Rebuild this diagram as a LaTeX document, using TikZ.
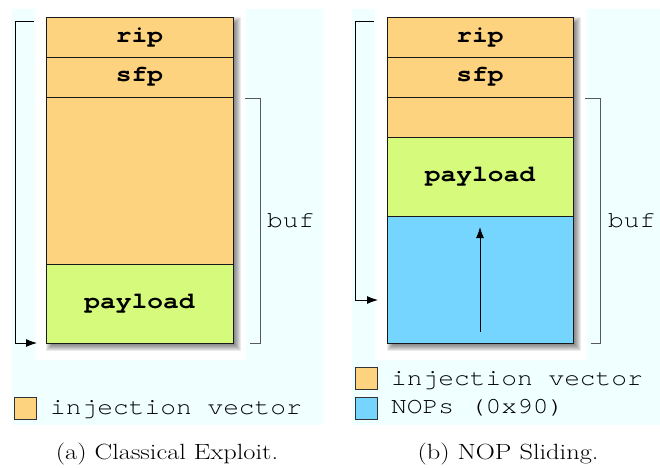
\documentclass[tikz,border=0pt]{standalone}
\usepackage{fontspec}
\usepackage{graphicx}
\setmonofont{texgyrecursor}[Extension=.otf, UprightFont=*-regular, BoldFont=*-bold, FakeStretch=1.14]
\usetikzlibrary{arrows.meta}
\definecolor{vecorange}{HTML}{FED37F}
\definecolor{payloadgreen}{HTML}{D5FA7C}
\definecolor{nopblue}{HTML}{76D5FE}
\definecolor{bgcyan}{HTML}{F0FFFF}
\begin{document}
\begin{tikzpicture}[x=1pt,y=-1pt,
  cell/.style={draw=black!90, line width=1pt, inner sep=0pt, font=\fontsize{23}{23}\selectfont\ttfamily\bfseries},
  lbl/.style={font=\fontsize{23}{23}\selectfont\ttfamily, inner sep=0pt, anchor=base west},
  captext/.style={font=\fontsize{22}{22}\selectfont, inner sep=0pt, anchor=base},
  brackline/.style={line width=0.9pt, draw=black!65},
  ptr/.style={line width=0.9pt, draw=black, -{Latex[length=11pt,width=8pt]}},
  key/.style={draw=black!80, line width=0.8pt, minimum size=22pt, inner sep=0pt}
]
\useasboundingbox (0,0) rectangle (660,467);
% panel backgrounds
\fill[bgcyan] (12,9) rectangle (323,425);
\fill[white] (35,9) rectangle (246,360);
\fill[bgcyan] (352,9) rectangle (660,425);
\fill[white] (375,9) rectangle (587,360);
% soft shadows
\foreach \k in {0,...,7}{
  \fill[black, opacity=0.08] ({50-(\k-3)},{21-(\k-3)}) rectangle ({237+(\k-3)},{347+(\k-3)});
  \fill[black, opacity=0.08] ({391-(\k-3)},{21-(\k-3)}) rectangle ({577+(\k-3)},{347+(\k-3)});
}
% stack (a)
\node[cell, fill=vecorange, minimum width=187pt, minimum height=40pt] (ripA) at (139.5,37) {rip};
\node[cell, fill=vecorange, minimum width=187pt, minimum height=40pt] (sfpA) at (139.5,77) {sfp};
\node[cell, fill=vecorange, minimum width=187pt, minimum height=167pt] (bufcellA) at (139.5,180.5) {};
\node[cell, fill=payloadgreen, minimum width=187pt, minimum height=79pt] (payA) at (139.5,303.5) {payload};
% stack (b)
\node[cell, fill=vecorange, minimum width=186pt, minimum height=40pt] (ripB) at (480,37) {rip};
\node[cell, fill=vecorange, minimum width=186pt, minimum height=40pt] (sfpB) at (480,77) {sfp};
\node[cell, fill=vecorange, minimum width=186pt, minimum height=40pt] (padB) at (480,117) {};
\node[cell, fill=payloadgreen, minimum width=186pt, minimum height=79pt] (payB) at (480,176.5) {payload};
\node[cell, fill=nopblue, minimum width=186pt, minimum height=127pt] (nopB) at (480,279.5) {};
% brackets (a)
\coordinate (retA) at (34,21);
\coordinate (tgtA) at (37,343);
\draw[ptr] (retA) -- ++(-19,0) |- (tgtA);
\coordinate (bufTopA) at (245,98);
\coordinate (bufBotA) at (250,343);
\draw[brackline] (bufTopA) -- ++(15,0) |- (bufBotA);
\node[lbl] (bufA) at (267,227) {buf};
% brackets (b)
\coordinate (retB) at (374,21);
\coordinate (tgtB) at (378,300);
\draw[ptr] (retB) -- ++(-19,0) |- (tgtB);
\coordinate (bufTopB) at (585,98);
\coordinate (bufBotB) at (591,343);
\draw[brackline] (bufTopB) -- ++(15,0) |- (bufBotB);
\node[lbl] (bufB) at (608,227) {buf};
% NOP slide arrow
\coordinate (slideStart) at (480,332);
\coordinate (slideEnd) at (480,227);
\draw[ptr] (slideStart) -- (slideEnd);
% legends
\node[key, fill=vecorange] (keyA) at (25.5,408.5) {};
\node[lbl] (legA) at (50,414) {injection vector};
\node[key, fill=vecorange] (keyB1) at (366,378.5) {};
\node[lbl] (legB1) at (391,385) {injection vector};
\node[key, fill=nopblue] (keyB2) at (366,408.5) {};
\node[lbl] (legB2) at (391,413) {NOPs (0x90)};
% captions
\node[captext] (capA) at (167,459) {\scalebox{1.2}[1]{(a) Classical Exploit.}};
\node[captext] (capB) at (508,459) {\scalebox{1.2}[1]{(b) NOP Sliding.}};
\end{tikzpicture}
\end{document}
